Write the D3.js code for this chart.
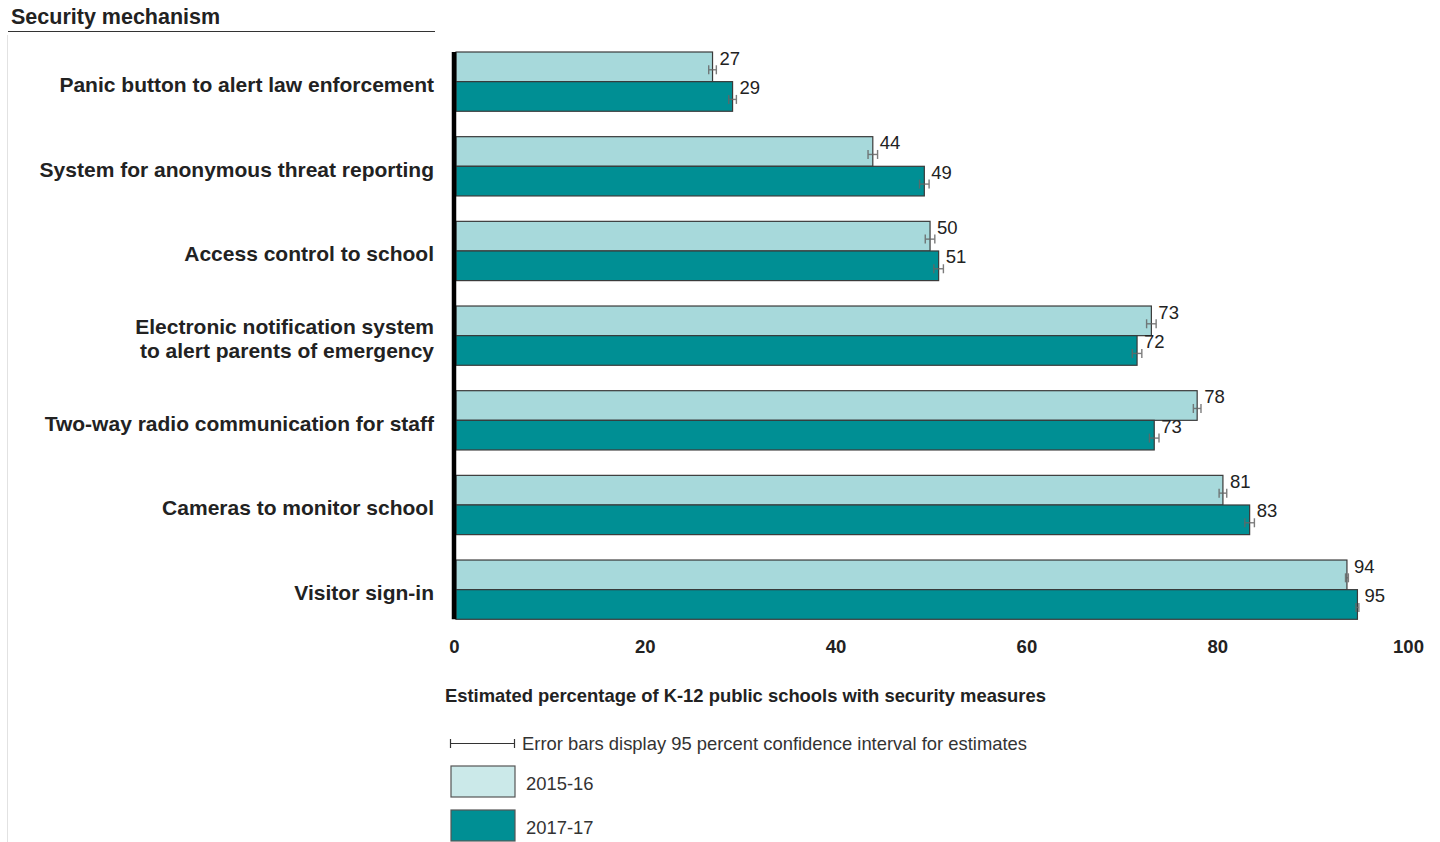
<!DOCTYPE html>
<html>
<head>
<meta charset="utf-8">
<script src="https://cdn.jsdelivr.net/npm/d3@7"></script>
<style>
  html, body { margin: 0; padding: 0; background: #fff; }
  svg { display: block; font-family: "Liberation Sans", Arial, sans-serif; }
</style>
</head>
<body>
<svg id="chart" width="1440" height="842"></svg>
<script>
// ---- Data ----
const categories = [
  ["Panic button to alert law enforcement"],
  ["System for anonymous threat reporting"],
  ["Access control to school"],
  ["Electronic notification system", "to alert parents of emergency"],
  ["Two-way radio communication for staff"],
  ["Cameras to monitor school"],
  ["Visitor sign-in"]
];
const seriesNames = ["2015-16", "2017-17"];
const values2015 = [27.1, 43.9, 49.9, 73.1, 77.9, 80.6, 93.6];
const values2017 = [29.2, 49.3, 50.8, 71.6, 73.4, 83.4, 94.7];
const ci2015 = [0.4, 0.5, 0.5, 0.5, 0.4, 0.4, 0.15];
const ci2017 = [0.4, 0.5, 0.5, 0.5, 0.5, 0.5, 0.15];
const xTicks = [0, 20, 40, 60, 80, 100];
const titleText = "Security mechanism";
const axisTitle = "Estimated percentage of K-12 public schools with security measures";
const errorNote = "Error bars display 95 percent confidence interval for estimates";

// ---- Setup ----
const svg = d3.select("#chart");
const colors = ["#a7d9db", "#008f94"];
const legendColors = ["#cbe9e9", "#008f94"];

const x = d3.scaleLinear().domain([0, 100]).range([454, 1408]);
const ids = categories.map((d, i) => i);
const y = d3.scaleBand().domain(ids).range([39.3, 632]).paddingInner(0.3).paddingOuter(0.15);
const ySub = d3.scaleBand().domain([0, 1]).range([0, y.bandwidth()]);

// left light border
svg.append("line").attr("x1", 7.5).attr("x2", 7.5).attr("y1", 35).attr("y2", 842)
  .attr("stroke", "#e2e2e2").attr("stroke-width", 1);

// title
svg.append("text").attr("x", 11).attr("y", 24).text(titleText)
  .attr("font-size", 21.5).attr("font-weight", "bold").attr("fill", "#222");
svg.append("line").attr("x1", 8).attr("x2", 435).attr("y1", 31.5).attr("y2", 31.5)
  .attr("stroke", "#333").attr("stroke-width", 1.2);

// bars
const rows = ids.map(i => ({
  i,
  vals: [
    { s: 0, v: values2015[i], ci: ci2015[i] },
    { s: 1, v: values2017[i], ci: ci2017[i] }
  ]
}));

const g = svg.append("g");
const grp = g.selectAll("g.grp").data(rows).join("g")
  .attr("transform", d => `translate(0,${y(d.i)})`);

grp.selectAll("rect").data(d => d.vals).join("rect")
  .attr("x", x(0) + 2)
  .attr("y", d => ySub(d.s))
  .attr("width", d => x(d.v) - x(0) - 2)
  .attr("height", ySub.bandwidth())
  .attr("fill", d => colors[d.s])
  .attr("stroke", "#3a3a3a").attr("stroke-width", 1.2);

// error bars
const eb = grp.selectAll("g.eb").data(d => d.vals).join("g")
  .attr("class", "eb")
  .attr("transform", d => `translate(0,${ySub(d.s) + ySub.bandwidth() * 0.6})`)
  .attr("stroke", "#666").attr("stroke-width", 1.4).attr("opacity", 0.85);
eb.append("line").attr("x1", d => x(d.v - d.ci)).attr("x2", d => x(d.v + d.ci)).attr("y1", 0).attr("y2", 0);
eb.append("line").attr("x1", d => x(d.v - d.ci)).attr("x2", d => x(d.v - d.ci)).attr("y1", -4.5).attr("y2", 4.5);
eb.append("line").attr("x1", d => x(d.v + d.ci)).attr("x2", d => x(d.v + d.ci)).attr("y1", -4.5).attr("y2", 4.5);

// value labels
grp.selectAll("text.val").data(d => d.vals).join("text")
  .attr("class", "val")
  .attr("x", d => x(d.v) + 7)
  .attr("y", d => ySub(d.s) + 12.5)
  .text(d => Math.round(d.v))
  .attr("font-size", 18.5).attr("fill", "#222");

// category labels
const catText = svg.append("g").selectAll("text").data(rows).join("text")
  .attr("text-anchor", "end")
  .attr("font-size", 21).attr("font-weight", "bold").attr("fill", "#222")
  .attr("transform", d => `translate(434,${y(d.i) + y.bandwidth() / 2 + 3})`);
catText.each(function(d) {
  const lines = categories[d.i];
  const t = d3.select(this);
  lines.forEach((ln, k) => {
    t.append("tspan").attr("x", 0)
      .attr("y", (k - (lines.length - 1) / 2) * 24)
      .attr("dy", "0.35em").text(ln);
  });
});

// y axis line (thick)
svg.append("line").attr("x1", x(0)).attr("x2", x(0))
  .attr("y1", y(0)).attr("y2", y(ids[ids.length - 1]) + y.bandwidth())
  .attr("stroke", "#000").attr("stroke-width", 4.5);

// x axis ticks (labels only)
const xAxis = d3.axisBottom(x).tickValues(xTicks).tickSize(0).tickPadding(0);
const ax = svg.append("g").attr("transform", "translate(0,640)").call(xAxis);
ax.select(".domain").remove();
ax.selectAll("text").attr("font-size", 18.5).attr("font-weight", "bold").attr("fill", "#222")
  .attr("font-family", "Liberation Sans, Arial, sans-serif");

// axis title
svg.append("text").attr("x", 445).attr("y", 701.5).text(axisTitle)
  .attr("font-size", 18.4).attr("font-weight", "bold").attr("fill", "#222");

// legend: error bar note
const le = svg.append("g").attr("stroke", "#333").attr("stroke-width", 1.2);
le.append("line").attr("x1", 450).attr("x2", 515).attr("y1", 743.5).attr("y2", 743.5);
le.append("line").attr("x1", 450.5).attr("x2", 450.5).attr("y1", 739).attr("y2", 748);
le.append("line").attr("x1", 514.5).attr("x2", 514.5).attr("y1", 739).attr("y2", 748);
svg.append("text").attr("x", 522).attr("y", 750).text(errorNote)
  .attr("font-size", 18.4).attr("fill", "#333");

// legend swatches
const leg = svg.append("g").selectAll("g").data(seriesNames).join("g")
  .attr("transform", (d, i) => `translate(451,${766 + i * 44})`);
leg.append("rect").attr("x", 0).attr("y", 0).attr("width", 64).attr("height", 31)
  .attr("fill", (d, i) => legendColors[i]).attr("stroke", "#555").attr("stroke-width", 1.2);
leg.append("text").attr("x", 75).attr("y", i => 24).text(d => d)
  .attr("font-size", 18.4).attr("fill", "#333");
</script>
</body>
</html>
